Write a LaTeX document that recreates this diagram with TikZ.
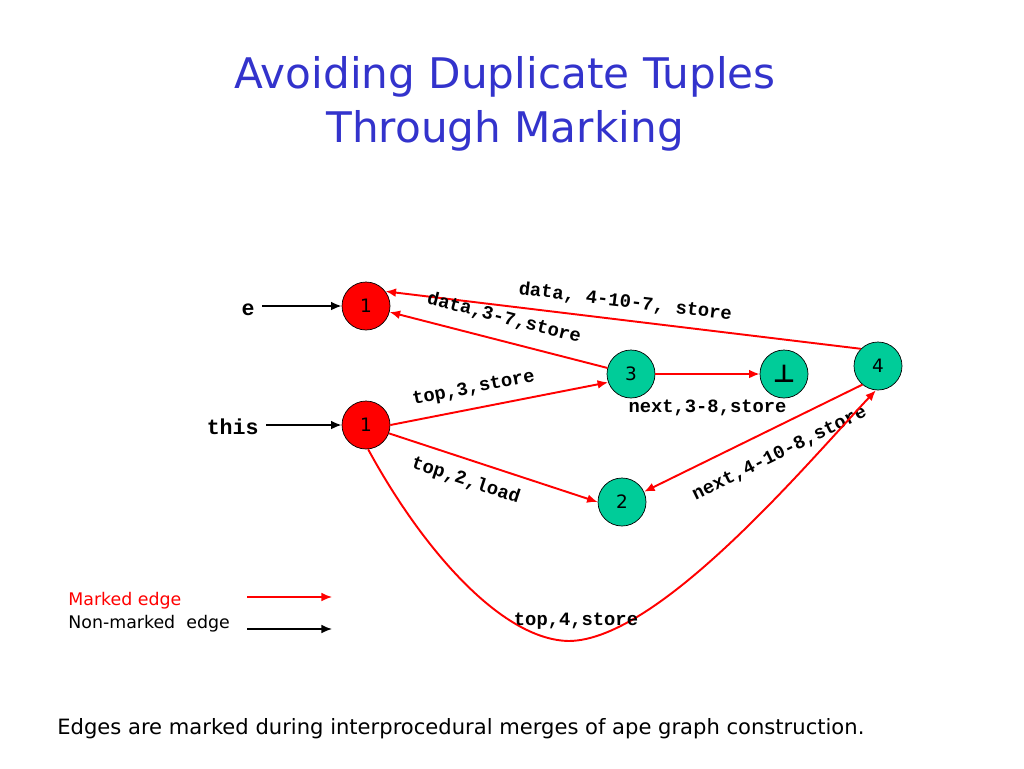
\documentclass[tikz,border=0pt]{standalone}
\usepackage{fontspec}
\setmainfont{DejaVu Sans}
\setmonofont{Liberation Mono}
\usetikzlibrary{positioning,arrows.meta}

\definecolor{titleblue}{RGB}{51,51,204}
\definecolor{edgered}{RGB}{255,0,0}
\definecolor{apegreen}{RGB}{0,204,153}

\tikzset{
  vertex/.style={circle,draw,thin,minimum size=0.96cm,inner sep=0pt,
                 font=\fontsize{10.5}{12}\selectfont},
  rednode/.style={vertex,fill=edgered},
  greennode/.style={vertex,fill=apegreen},
  marked/.style={draw=edgered,line width=1.1pt,->},
  plain/.style={draw=black,line width=1.1pt,->},
  elabel/.style={font=\ttfamily\bfseries\fontsize{10.7}{12}\selectfont,inner sep=2pt},
  entry/.style={font=\ttfamily\bfseries\fontsize{12.3}{14}\selectfont,inner sep=0pt,inner xsep=4pt},
  titletext/.style={text=titleblue,font=\fontsize{24}{28}\selectfont},
  legendtext/.style={font=\fontsize{9.9}{12}\selectfont,inner sep=0pt}
}

\begin{document}
\begin{tikzpicture}[x=0.02cm,y=-0.02cm,>={Latex[length=6pt,width=5pt]}]
  \useasboundingbox (0,0) rectangle (1024,768);

  % Title
  \node[titletext,anchor=base] (title1) at (505,88) {Avoiding Duplicate Tuples};
  \node[titletext,anchor=base] (title2) at (505,142) {Through Marking};

  % Graph nodes
  \node[rednode] (e1) at (366,306) {1};
  \node[rednode] (t1) at (366,425) {1};
  \node[greennode] (n3) at (631,374) {3};
  \node[greennode,font=\fontsize{14}{14}\selectfont\bfseries] (bot) at (784,374) {⊥};
  \node[greennode] (n4) at (878,366) {4};
  \node[greennode] (n2) at (622,502) {2};

  % Entry points
  \node[entry,anchor=base east] (lbl_e) at (262,315) {e};
  \node[entry,anchor=base east] (lbl_this) at (266,434) {this};
  \draw[plain] (lbl_e.east |- e1) -- (e1);
  \draw[plain] (lbl_this.east |- t1) -- (t1);

  % Marked edges
  \draw[marked,<-] (e1.37) -- node[elabel,sloped,above=3pt] {data, 4-10-7, store} (n4.135);
  \draw[marked,<-] (e1) -- node[elabel,sloped,above=5.5pt] {data,3-7,store} (n3);
  \draw[marked] (t1.0) -- node[elabel,sloped,above=4pt,pos=0.4] {top,3,store} (n3.200);
  \draw[marked] (n3) -- node[elabel,below=12pt] {next,3-8,store} (bot);
  \draw[marked] (t1.-20) -- node[elabel,sloped,below=4.5pt,pos=0.4] {top,2,load} (n2.180);
  \draw[marked,<-] (n2.25) -- node[elabel,sloped,below=7.5pt,pos=0.57] {next,4-10-8,store} (n4.230);
  \draw[marked] (t1.-85) .. controls (420,545) and (500,640) .. (569,641)
    node[elabel,xshift=0.14cm,yshift=0.4cm] {top,4,store}
    .. controls (660,640) and (810,460) .. (n4.265);

  % Legend
  \node[legendtext,text=edgered,anchor=base west] (lg_marked) at (68,605) {Marked edge};
  \node[legendtext,anchor=base west] (lg_plain) at (68,628) {Non-marked\ \ edge};
  \coordinate (lm_a) at (247,597);
  \coordinate (lm_b) at (332,597);
  \coordinate (lp_a) at (247,629);
  \coordinate (lp_b) at (332,629);
  \draw[marked,line width=0.9pt] (lm_a) -- (lm_b);
  \draw[plain,line width=0.9pt] (lp_a) -- (lp_b);

  % Caption
  \node[legendtext,font=\fontsize{12}{14}\selectfont,anchor=base west] (caption) at (57,734)
    {Edges are marked during interprocedural merges of ape graph construction.};
\end{tikzpicture}
\end{document}
